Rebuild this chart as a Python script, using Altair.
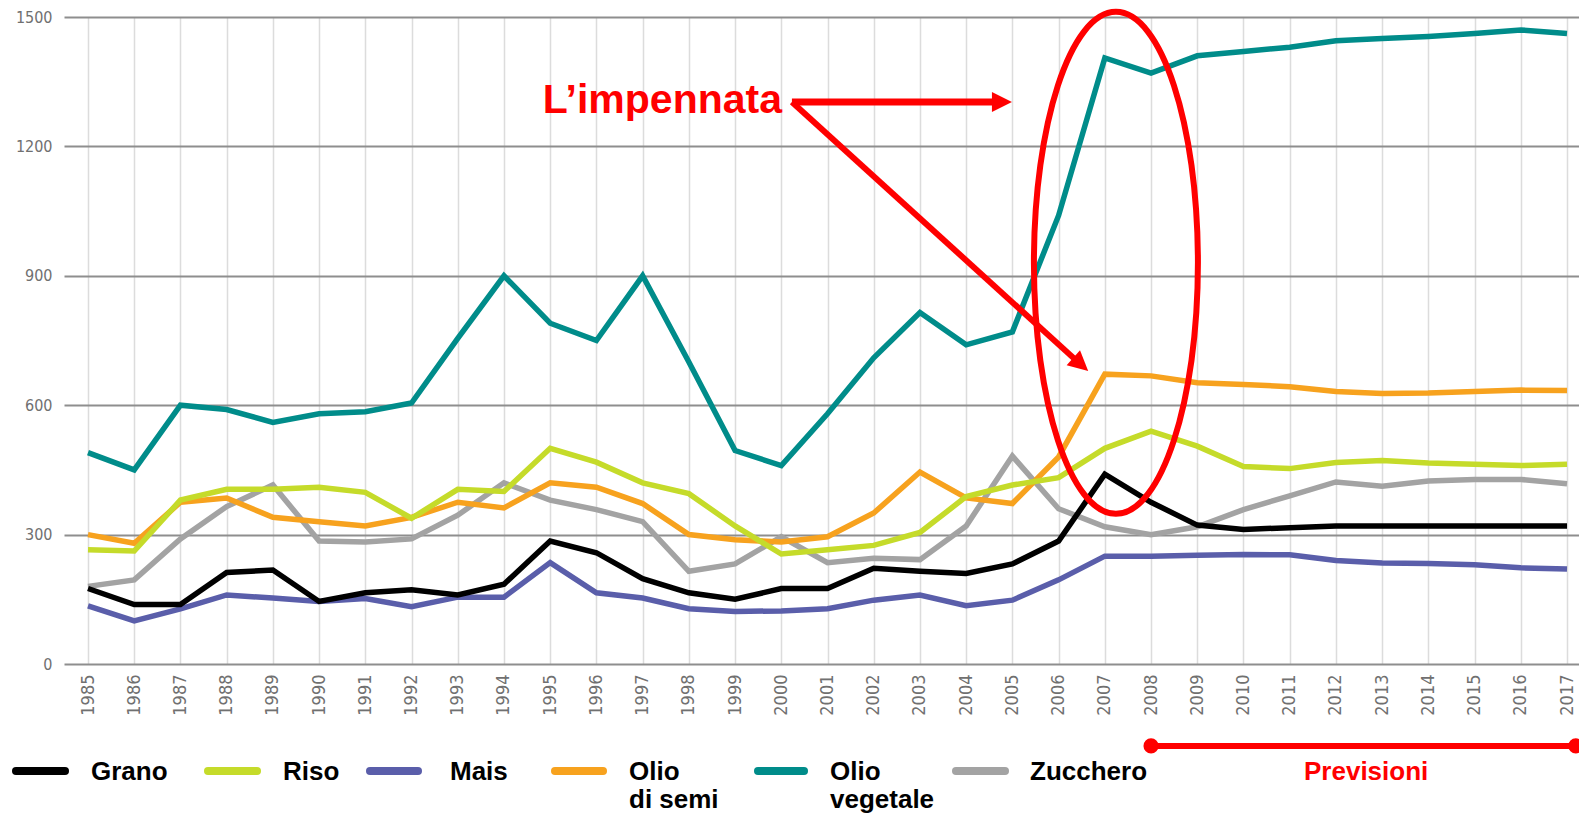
import altair as alt
import pandas as pd

# ---------------- data ----------------
years = list(range(1985, 2018))

grano = [175, 138, 138, 212, 218, 145, 165, 172, 160, 185, 285, 258, 198, 165, 150, 175, 175,
         222, 215, 210, 232, 285, 440, 375, 322, 312, 316, 320, 320, 320, 320, 320, 320]
riso = [265, 262, 380, 405, 405, 410, 398, 338, 405, 400, 500, 468, 420, 395, 320, 255, 265,
        275, 305, 388, 415, 432, 500, 540, 505, 458, 453, 467, 472, 466, 463, 460, 463]
mais = [135, 100, 128, 160, 153, 145, 152, 133, 155, 155, 235, 165, 153, 128, 122, 123, 128,
        148, 160, 135, 148, 195, 250, 250, 252, 254, 253, 240, 234, 233, 230, 223, 220]
olio_semi = [300, 280, 375, 385, 340, 330, 320, 340, 375, 362, 420, 410, 372, 300, 288, 283, 295,
             350, 445, 385, 372, 480, 672, 668, 652, 648, 643, 632, 627, 628, 632, 635, 634]
olio_veg = [490, 450, 600, 590, 560, 580, 585, 605, 755, 900, 790, 750, 900, 700, 495, 460, 580,
            710, 815, 740, 770, 1040, 1405, 1370, 1410, 1420, 1430, 1445, 1450, 1455, 1462, 1470, 1462]
zucchero = [180, 195, 290, 365, 415, 285, 283, 290, 345, 420, 380, 358, 330, 215, 232, 295, 235,
            245, 242, 320, 482, 360, 318, 300, 318, 358, 390, 422, 412, 424, 428, 428, 418]

series_names = ["Grano", "Riso", "Mais", "Olio di semi", "Olio vegetale", "Zucchero"]
series_values = [grano, riso, mais, olio_semi, olio_veg, zucchero]
series_colors = ["#000000", "#c5db2a", "#5a5eaa", "#f7a21e", "#008c8a", "#a3a3a3"]
draw_order = ["Zucchero", "Mais", "Olio di semi", "Riso", "Grano", "Olio vegetale"]

legend_labels = ["Grano", "Riso", "Mais", "Olio\ndi semi", "Olio\nvegetale", "Zucchero"]
y_ticks = [0, 300, 600, 900, 1200, 1500]

# annotation anchors (data space)
title_text = "L’impennata"
forecast_start, forecast_end, forecast_level = 2008, 2017.19, -190

# ---------------- long table ----------------
rows = []
for name, vals in zip(series_names, series_values):
    for yr, v in zip(years, vals):
        rows.append({"serie": name, "year": yr, "value": v})
df = pd.DataFrame(rows)

LABEL_FONT = "Liberation Sans Narrow, DejaVu Sans Condensed, Roboto Condensed, Arial Narrow, sans-serif"
BOLD_FONT = "Liberation Sans, Arial, sans-serif"
RED = "#ff0000"

x_enc = alt.X(
    "year:Q",
    scale=alt.Scale(domain=[1984.4807, 2017.2592], nice=False, zero=False),
    axis=alt.Axis(values=years, format="d", labelAngle=270, grid=True, gridColor="#dcdcdc",
                  gridWidth=1.5, domain=False, ticks=False, labelPadding=10, labelFontSize=18,
                  labelColor="#707070", labelFont=LABEL_FONT, labelOverlap=False,
                  labelFlush=False, title=None),
)
y_enc = alt.Y(
    "value:Q",
    scale=alt.Scale(domain=[0, 1500], nice=False, zero=True),
    axis=alt.Axis(values=y_ticks, format="d", grid=True, gridColor="#8e8e8e", gridWidth=2,
                  domain=False, ticks=False, labelPadding=12, labelFontSize=16,
                  labelColor="#707070", labelFont=LABEL_FONT, labelFlush=False, title=None),
)

layers = []
color_of = dict(zip(series_names, series_colors))
for name in draw_order:
    layers.append(
        alt.Chart(df).transform_filter(alt.datum.serie == name)
        .mark_line(color=color_of[name], strokeWidth=5.5)
        .encode(x=x_enc, y=y_enc)
    )

# ---------------- annotations in data space ----------------
shafts = pd.DataFrame({
    "year": [2000.23, 2000.23],
    "value": [1303, 1303],
    "year2": [2004.62, 2006.41],
    "value2": [1303, 701],
    "w": [7, 6],
})
for i in range(len(shafts)):
    layers.append(
        alt.Chart(shafts.iloc[[i]]).mark_rule(color=RED, strokeWidth=float(shafts["w"][i]))
        .encode(x=x_enc, y=y_enc, x2="year2:Q", y2="value2:Q")
    )

head_path = "M0,0 L-2,-1 L-2,1 Z"
heads = pd.DataFrame({"year": [2004.99, 2006.64], "value": [1303, 679], "ang": [0, 42]})
for i in range(len(heads)):
    layers.append(
        alt.Chart(heads.iloc[[i]]).mark_point(shape=head_path, size=400, filled=True, color=RED,
                                               opacity=1, angle=float(heads["ang"][i]), strokeWidth=0)
        .encode(x=x_enc, y=y_enc)
    )

a, k = 0.3267, 0.5523
ak = a * k
ellipse_path = (f"M{a},0 C{a},{k} {ak},1 0,1 C{-ak},1 {-a},{k} {-a},0 "
                f"C{-a},{-k} {-ak},-1 0,-1 C{ak},-1 {a},{-k} {a},0 Z")
ell = pd.DataFrame({"year": [2007.24], "value": [930]})
layers.append(
    alt.Chart(ell).mark_point(shape=ellipse_path, size=252004, filled=False, color=RED,
                              strokeWidth=6, opacity=1)
    .encode(x=x_enc, y=y_enc)
)

ttl = pd.DataFrame({"year": [1994.84], "value": [1277], "t": [title_text]})
layers.append(
    alt.Chart(ttl).mark_text(font=BOLD_FONT, fontWeight="bold", fontSize=41, color=RED,
                             align="left", baseline="alphabetic")
    .encode(x=x_enc, y=y_enc, text="t:N")
)

fc = pd.DataFrame({"year": [forecast_start], "value": [forecast_level],
                   "year2": [forecast_end], "value2": [forecast_level]})
layers.append(
    alt.Chart(fc).mark_rule(color=RED, strokeWidth=6)
    .encode(x=x_enc, y=y_enc, x2="year2:Q")
)
fc_pts = pd.DataFrame({"year": [forecast_start, forecast_end], "value": [forecast_level] * 2})
layers.append(
    alt.Chart(fc_pts).mark_circle(color=RED, size=230, opacity=1)
    .encode(x=x_enc, y=y_enc)
)

# ---------------- manual legend (pixel positions relative to plot origin) ----------------
one = pd.DataFrame({"k": [0]})
sw_x = [(-52, 5), (140, 197), (302, 358), (487, 543), (690, 744), (888, 945)]
txt_x = [27, 219, 386, 565, 766, 966]
SW_Y, TXT_Y = 754, 763
for (x0, x1), tx, lab, name in zip(sw_x, txt_x, legend_labels, series_names):
    layers.append(
        alt.Chart(one).mark_rule(color=color_of[name], strokeWidth=8, strokeCap="round")
        .encode(x=alt.value(x0 + 4), x2=alt.value(x1 - 4), y=alt.value(SW_Y))
    )
    layers.append(
        alt.Chart(one).mark_text(font=BOLD_FONT, fontWeight="bold", fontSize=26, color="#000000",
                                 align="left", baseline="alphabetic", lineBreak="\n", lineHeight=28)
        .encode(x=alt.value(tx), y=alt.value(TXT_Y), text=alt.value(lab))
    )
layers.append(
    alt.Chart(one).mark_text(font=BOLD_FONT, fontWeight="bold", fontSize=26, color=RED,
                             align="left", baseline="alphabetic")
    .encode(x=alt.value(1240), y=alt.value(TXT_Y), text=alt.value("Previsioni"))
)

chart = (
    alt.layer(*layers)
    .properties(width=1515, height=647,
                padding={"left": 56, "top": 9, "right": 0, "bottom": 150},
                autosize=alt.AutoSizeParams(type="none"),
                background="white")
    .configure_view(stroke=None)
)

chart.save("out.html", embed_options={"renderer": "svg", "actions": False})
